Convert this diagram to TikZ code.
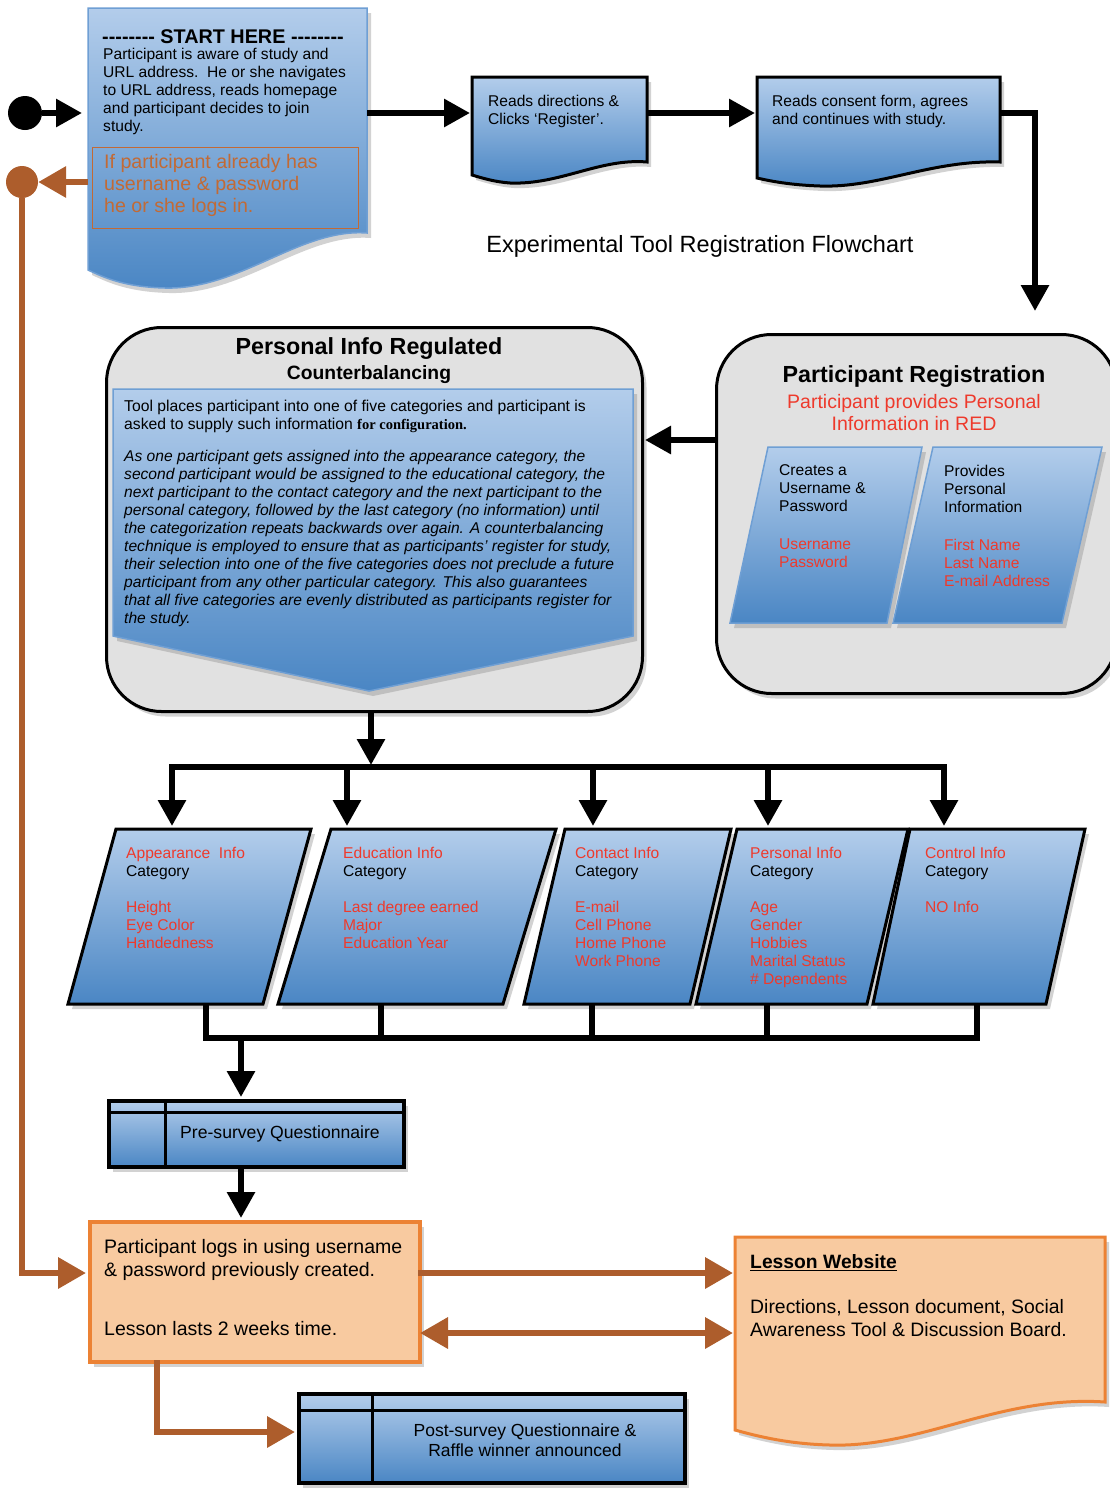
\documentclass[tikz,border=0pt]{standalone}
\usepackage{fontspec}
\setmainfont{Liberation Sans}
\newfontfamily\serifx{Liberation Serif}
\usetikzlibrary{arrows.meta,shadows}
\definecolor{bTop}{HTML}{B3CDEB}
\definecolor{bBot}{HTML}{4A86C4}
\definecolor{grayF}{HTML}{E1E1E1}
\definecolor{peach}{HTML}{F8CAA0}
\definecolor{orEdge}{HTML}{EC8234}
\definecolor{orArr}{HTML}{AD5D2C}
\definecolor{redT}{HTML}{EE3A2C}
\definecolor{orT}{HTML}{C26A35}
\definecolor{startEdge}{HTML}{6F9FD4}
\newcommand{\fsz}[2]{\fontsize{#1}{#2}\selectfont}
\newcommand{\hyrow}{-{}-{}-{}-{}-{}-{}-{}-{}}
\begin{document}
\begin{tikzpicture}[x=1pt,y=-1pt,
  blk/.style={line width=6pt,-{Triangle[length=26pt,width=27pt]}},
  blkline/.style={line width=6pt},
  ora/.style={color=orArr,line width=6.5pt,-{Triangle[length=28pt,width=30pt]}},
  oraboth/.style={color=orArr,line width=6.5pt,{Triangle[length=28pt,width=30pt]}-{Triangle[length=28pt,width=30pt]}},
  bfill/.style={top color=bTop,bottom color=bBot},
  shad/.style={drop shadow={opacity=0.35,shadow xshift=4pt,shadow yshift=-5pt}},
  txt/.style={inner sep=0pt,anchor=north west,align=left},
  catbox/.style={bfill,draw=black,line width=3pt,shad},
  regbox/.style={bfill,draw=startEdge,line width=1.5pt,shad},
  bigbox/.style={draw=black,line width=3pt,fill=grayF,rounded corners=55pt,anchor=north west,inner sep=0pt,shad},
  tblbox/.style={draw=black,line width=4pt,bfill,anchor=north west,inner sep=0pt,shad},
  body/.style={font=\fsz{15.6}{18}},
]
\useasboundingbox (0,0) rectangle (1110,1489);
\fill[white] (0,0) rectangle (1110,1489);

% ---------- start box ----------
\path[bfill,draw=startEdge,line width=1.5pt,shad] (88,8) -- (367,8) -- (367,233)
  .. controls (300,228) and (240,290) .. (165,288)
  .. controls (125,287) and (105,278) .. (88,270) -- cycle;
\node[font=\bfseries\fsz{19.8}{22},inner sep=0pt] (starthd) at (223,37) {\hyrow\ START HERE \hyrow};
\node[txt,body] (starttx) at (103,47.5) {Participant is aware of study and\\URL address.\ \ He or she navigates\\to URL address, reads homepage\\and participant decides to join\\study.};
\draw[orT,line width=1pt] (92,147) rectangle (358,228);
\node[txt,font=\fsz{19.6}{22},text=orT] (alrtx) at (104,154) {If participant already has\\username \& password\\he or she logs in.};
\coordinate (startW) at (82,113);
\coordinate (startE) at (367,113);
\coordinate (alrW) at (88,182);

\node[circle,fill=black,minimum size=34pt,inner sep=0pt] (dot) at (25,113) {};
\node[circle,fill=orArr,minimum size=32pt,inner sep=0pt] (ocirc) at (22,182) {};
\draw[blk] (dot.east) -- (startW);
\draw[ora] (alrW) -- (ocirc.east);

% ---------- top row ----------
\path[catbox] (472,77) -- (647,77) -- (647,162)
  .. controls (600,158) and (560,185) .. (510,183)
  .. controls (495,182) and (482,178) .. (472,175) -- cycle;
\node[txt,body] (b2tx) at (488,94.5) {Reads directions \&\\Clicks ‘Register’.};
\path[catbox] (757,77) -- (1000,77) -- (1000,162)
  .. controls (930,160) and (880,188) .. (820,186)
  .. controls (790,185) and (770,181) .. (757,178) -- cycle;
\node[txt,body] (b3tx) at (772,94.5) {Reads consent form, agrees\\and continues with study.};
\coordinate (b2W) at (470,113);
\coordinate (b2E) at (647,113);
\coordinate (b3W) at (755,113);
\coordinate (b3E) at (1000,113);
\coordinate (prN) at (1035,311);
\draw[blk] (startE) -- (b2W);
\draw[blk] (b2E) -- (b3W);
\draw[blk] (b3E) -| (prN);

\node[font=\fsz{23.5}{26}] (title) at (700,246) {Experimental Tool Registration Flowchart};

% ---------- personal info regulated ----------
\node[bigbox,minimum width=536pt,minimum height=384pt] (pi) at (105,326) {};
\node[font=\bfseries\fsz{23.3}{26},inner sep=0pt] (pititle) at (369,349) {Personal Info Regulated};
\node[font=\bfseries\fsz{19.3}{22},inner sep=0pt] (pisub) at (369,375) {Counterbalancing};
\path[regbox] (113,389) -- (633,389) -- (633,636) -- (369,691) -- (113,636) -- cycle;
\node[txt,font=\fsz{15.7}{18}] (pip1) at (124,399.5) {Tool places participant into one of five categories and participant is\\asked to supply such information {\serifx\bfseries\fontsize{14.5}{18}\selectfont for configuration.}};
\node[txt,font=\itshape\fsz{15.6}{18}] (pip2) at (124,449.5) {As one participant gets assigned into the appearance category, the\\second participant would be assigned to the educational category, the\\next participant to the contact category and the next participant to the\\personal category, followed by the last category (no information) until\\the categorization repeats backwards over again. A counterbalancing\\technique is employed to ensure that as participants’ register for study,\\their selection into one of the five categories does not preclude a future\\participant from any other particular category. This also guarantees\\that all five categories are evenly distributed as participants register for\\the study.};

% ---------- participant registration ----------
\node[bigbox,minimum width=400pt,minimum height=359pt] (pr) at (715,333) {};
\node[font=\bfseries\fsz{23.3}{26},inner sep=0pt] (prtitle) at (914,377) {Participant Registration};
\node[font=\fsz{19.5}{22},text=redT,align=center,inner sep=0pt] (prsub) at (914,413) {Participant provides Personal\\Information in RED};
\path[regbox] (768,447) -- (922,447) -- (887,623) -- (730,623) -- cycle;
\path[regbox] (933,447) -- (1102,447) -- (1062,623) -- (893,623) -- cycle;
\node[txt,body] (rega) at (779,464.5) {Creates a\\Username \&\\Password\\[20pt]\textcolor{redT}{Username}\\\textcolor{redT}{Password}};
\node[txt,body] (regb) at (944,464.5) {Provides\\Personal\\Information\\[20pt]\textcolor{redT}{First Name}\\\textcolor{redT}{Last Name}\\\textcolor{redT}{E-mail Address}};
\coordinate (prW) at (715,440);
\coordinate (piE) at (645,440);
\draw[blk] (prW) -- (piE);

% ---------- fan out ----------
\coordinate (piS) at (371,710);
\coordinate (barT) at (371,765);
\coordinate (barC) at (371,767);
\coordinate (c1N) at (172,826);
\coordinate (c2N) at (347,826);
\coordinate (c3N) at (593,826);
\coordinate (c4N) at (768,826);
\coordinate (c5N) at (944,826);
\draw[blk] (piS) -- (barT);
\draw[blk] (barC) -| (c1N);
\draw[blk] (barC) -| (c2N);
\draw[blk] (barC) -| (c3N);
\draw[blk] (barC) -| (c4N);
\draw[blk] (barC) -| (c5N);

% ---------- categories ----------
\path[catbox] (116,829) -- (311,829) -- (263,1004) -- (68,1004) -- cycle;
\path[catbox] (331,829) -- (556,829) -- (503,1004) -- (278,1004) -- cycle;
\path[catbox] (565,829) -- (731,829) -- (690,1004) -- (524,1004) -- cycle;
\path[catbox] (737,829) -- (908,829) -- (867,1004) -- (696,1004) -- cycle;
\path[catbox] (910,829) -- (1085,829) -- (1046,1004) -- (873,1004) -- cycle;
\node[txt,body] (c1tx) at (126,846.5) {\textcolor{redT}{Appearance\ \ Info}\\Category\\[18pt]\textcolor{redT}{Height}\\\textcolor{redT}{Eye Color}\\\textcolor{redT}{Handedness}};
\node[txt,body] (c2tx) at (343,846.5) {\textcolor{redT}{Education Info}\\Category\\[18pt]\textcolor{redT}{Last degree earned}\\\textcolor{redT}{Major}\\\textcolor{redT}{Education Year}};
\node[txt,body] (c3tx) at (575,846.5) {\textcolor{redT}{Contact Info}\\Category\\[18pt]\textcolor{redT}{E-mail}\\\textcolor{redT}{Cell Phone}\\\textcolor{redT}{Home Phone}\\\textcolor{redT}{Work Phone}};
\node[txt,body] (c4tx) at (750,846.5) {\textcolor{redT}{Personal Info}\\Category\\[18pt]\textcolor{redT}{Age}\\\textcolor{redT}{Gender}\\\textcolor{redT}{Hobbies}\\\textcolor{redT}{Marital Status}\\\textcolor{redT}{\# Dependents}};
\node[txt,body] (c5tx) at (925,846.5) {\textcolor{redT}{Control Info}\\Category\\[18pt]\textcolor{redT}{NO Info}};

% ---------- fan in ----------
\coordinate (c1S) at (206,1004);
\coordinate (c2S) at (381,1004);
\coordinate (c3S) at (592,1004);
\coordinate (c4S) at (767,1004);
\coordinate (c5S) at (977,1004);
\coordinate (jb) at (241,1038);
\draw[blkline] (c1S) |- (jb);
\draw[blkline] (c2S) |- (jb);
\draw[blkline] (c3S) |- (jb);
\draw[blkline] (c4S) |- (jb);
\draw[blkline] (c5S) |- (jb);

% ---------- pre-survey ----------
\node[tblbox,minimum width=295pt,minimum height=66pt] (pre) at (107,1099) {};
\draw[line width=3pt] (107,1112) -- (402,1112);
\draw[line width=3pt] (165,1099) -- (165,1165);
\node[font=\fsz{17.6}{20},inner sep=0pt] (pretx) at (280,1134) {Pre-survey Questionnaire};
\coordinate (preN) at (241,1097);
\coordinate (preS) at (241,1165);
\draw[blk] (jb) -- (preN);

% ---------- login ----------
\node[draw=orEdge,line width=3.5pt,fill=peach,minimum width=330pt,minimum height=140pt,anchor=north west,inner sep=0pt,shad] (login) at (88,1220) {};
\node[txt,font=\fsz{19.5}{23}] (logtx1) at (104,1239.5) {Participant logs in using username\\\& password previously created.};
\node[txt,font=\fsz{19.5}{23}] (logtx2) at (104,1321.5) {Lesson lasts 2 weeks time.};
\coordinate (loginN) at (241,1218);
\coordinate (loginW) at (86,1273);
\draw[blk] (preS) -- (loginN);
\draw[ora] (ocirc.south) |- (loginW);

% ---------- lesson website ----------
\path[fill=peach,draw=orEdge,line width=3pt,shad] (735,1237) -- (1105,1237) -- (1105,1402)
  .. controls (1000,1395) and (920,1448) .. (830,1445)
  .. controls (790,1444) and (760,1437) .. (735,1430) -- cycle;
\node[txt,font=\bfseries\fsz{19.3}{22}] (lwtitle) at (750,1254.5) {\underline{Lesson Website}};
\node[txt,font=\fsz{19.4}{23}] (lwtx) at (750,1299.5) {Directions, Lesson document, Social\\Awareness Tool \& Discussion Board.};
\coordinate (logE1) at (418,1273);
\coordinate (lwW1) at (733,1273);
\coordinate (logE2) at (420,1333);
\coordinate (lwW2) at (733,1333);
\draw[ora] (logE1) -- (lwW1);
\draw[oraboth] (logE2) -- (lwW2);

% ---------- post-survey ----------
\node[tblbox,minimum width=386pt,minimum height=89pt] (post) at (297,1392) {};
\draw[line width=3pt] (297,1410) -- (683,1410);
\draw[line width=3pt] (372,1392) -- (372,1481);
\node[font=\fsz{17.5}{20},align=center,inner sep=0pt] (posttx) at (525,1440) {Post-survey Questionnaire \&\\Raffle winner announced};
\coordinate (logS) at (157,1360);
\coordinate (postW) at (295,1432);
\draw[ora] (logS) |- (postW);
\end{tikzpicture}
\end{document}
